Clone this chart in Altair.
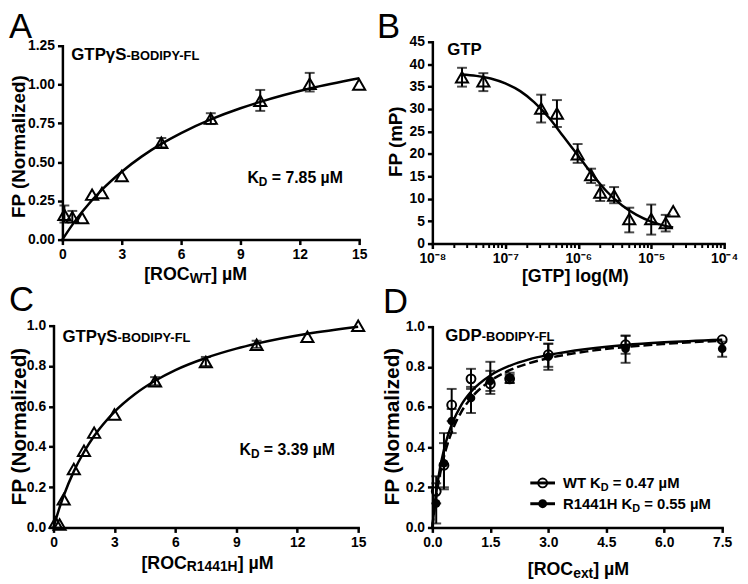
import altair as alt
import pandas as pd

FONT = "Liberation Sans"
OFF = 8
W, H = 740, 576

# ---------------- data ----------------
# Panel A  (ROC WT, GTPgS-BODIPY-FL)
a_x = [0.1, 0.5, 1, 1.5, 2, 3, 5, 7.5, 10, 12.5, 15]
a_y = [0.16, 0.145, 0.14, 0.29, 0.30, 0.41, 0.625, 0.78, 0.895, 1.005, 1.0]
a_lo = [0.11, 0.11, 0.14, 0.29, 0.30, 0.41, 0.595, 0.745, 0.83, 0.955, 1.0]
a_hi = [0.22, 0.185, 0.14, 0.29, 0.30, 0.41, 0.655, 0.815, 0.965, 1.075, 1.0]
a_fit_x = [0, 0.5, 1, 2, 3, 4, 5, 6, 7.5, 9, 10, 12.5, 15]
a_fit_y = [0, 0.095, 0.179, 0.322, 0.438, 0.535, 0.617, 0.687, 0.775, 0.847, 0.888, 0.974, 1.04]

# Panel B  (GTP competition)
b_x = [2.55e-8, 5.0e-8, 3.1e-7, 5.1e-7, 9.8e-7, 1.5e-6, 2.0e-6, 3.1e-6, 5.0e-6, 1.0e-5, 1.58e-5, 2.0e-5]
b_y = [37.1, 36.2, 30.1, 29.0, 19.9, 15.3, 11.4, 10.7, 5.5, 5.5, 4.6, 7.2]
b_lo = [35.0, 34.0, 27.0, 26.0, 18.0, 13.5, 9.5, 9.0, 2.5, 2.0, 2.7, 7.2]
b_hi = [39.2, 38.0, 33.2, 32.0, 22.2, 16.7, 13.0, 12.6, 8.0, 8.7, 6.4, 7.2]
b_fit_x = [2.5e-8, 4e-8, 6.3e-8, 1e-7, 1.6e-7, 2.5e-7, 4e-7, 6.3e-7, 1e-6, 1.6e-6,
           2.5e-6, 4e-6, 6.3e-6, 1e-5, 1.6e-5, 2e-5]
b_fit_y = [37.7, 37.4, 36.8, 35.7, 34.0, 31.5, 28.0, 23.8, 19.6, 15.2,
           11.5, 8.5, 6.4, 4.9, 3.9, 3.6]
b_major = [1e-8, 1e-7, 1e-6, 1e-5, 1e-4]
b_labels = ["10\u207b\u2078", "10\u207b\u2077", "10\u207b\u2076", "10\u207b\u2075", "10\u207b\u2074"]
b_minor = [m * d for d in b_major[:-1] for m in range(2, 10)]

# Panel C  (ROC R1441H, GTPgS-BODIPY-FL)
c_x = [0.1, 0.3, 0.5, 1, 1.5, 2, 3, 5, 7.5, 10, 12.5, 15]
c_y = [0.025, 0.015, 0.14, 0.29, 0.38, 0.47, 0.56, 0.725, 0.82, 0.905, 0.945, 1.0]
c_lo = [0.025, 0.015, 0.14, 0.29, 0.38, 0.47, 0.56, 0.705, 0.80, 0.89, 0.945, 1.0]
c_hi = [0.025, 0.015, 0.14, 0.29, 0.38, 0.47, 0.56, 0.745, 0.845, 0.925, 0.945, 1.0]
c_fit_x = [0, 0.25, 0.5, 1, 1.5, 2, 3, 4, 5, 6, 7.5, 9, 10, 12.5, 15]
c_fit_y = [0, 0.084, 0.157, 0.278, 0.374, 0.453, 0.573, 0.660, 0.727, 0.780, 0.840, 0.886, 0.911, 0.960, 0.995]

# Panel D  (ROC ext, GDP-BODIPY-FL)
d_x = [0.1, 0.3, 0.5, 1, 1.5, 2, 3, 5, 7.5]
d_wt_y = [0.18, 0.31, 0.61, 0.74, 0.715, 0.74, 0.86, 0.91, 0.935]
d_wt_lo = [0.12, 0.20, 0.53, 0.69, 0.665, 0.72, 0.80, 0.865, 0.935]
d_wt_hi = [0.255, 0.42, 0.69, 0.79, 0.825, 0.76, 0.915, 0.955, 0.935]
d_mu_y = [0.12, 0.32, 0.53, 0.645, 0.73, 0.745, 0.85, 0.89, 0.89]
d_mu_lo = [0.02, 0.19, 0.47, 0.57, 0.68, 0.72, 0.785, 0.82, 0.85]
d_mu_hi = [0.22, 0.47, 0.59, 0.70, 0.78, 0.77, 0.915, 0.955, 0.925]
d_fit_x = [0, 0.05, 0.1, 0.2, 0.3, 0.4, 0.5, 0.75, 1, 1.5, 2, 2.5, 3, 4, 5, 6, 7.5]
d_wt_fit = [0, 0.096, 0.174, 0.297, 0.387, 0.457, 0.512, 0.611, 0.676, 0.757, 0.805,
            0.837, 0.859, 0.889, 0.909, 0.922, 0.935]
d_mu_fit = [0, 0.083, 0.154, 0.266, 0.352, 0.420, 0.475, 0.576, 0.644, 0.730, 0.783,
            0.818, 0.843, 0.877, 0.899, 0.914, 0.930]

# ---------------- helpers ----------------
WIDTHS = {" ": 278, "[": 333, "]": 333, "(": 333, ")": 333, "-": 333, ".": 278, "=": 584,
          "A": 722, "B": 722, "C": 722, "D": 722, "E": 667, "F": 611, "G": 778, "H": 722,
          "I": 278, "K": 722, "L": 611, "M": 833, "N": 722, "O": 778, "P": 667, "R": 722,
          "S": 667, "T": 611, "W": 944, "Y": 667, "e": 556, "x": 556, "t": 333, "l": 278,
          "o": 611, "g": 611, "\u00b5": 611, "\u03b3": 556}


def tw(s, size):
    return sum(WIDTHS.get(c, 556) for c in s) * size / 1000.0


dummy = pd.DataFrame({"k": [0]})


def text(s, x, y, size, weight="bold", align="left", angle=None, baseline="alphabetic"):
    props = dict(text=s, font=FONT, fontSize=size, fontWeight=weight, align=align,
                 baseline=baseline, color="black")
    if angle is not None:
        props["angle"] = angle
    return alt.Chart(dummy).mark_text(**props).encode(x=alt.value(x - OFF), y=alt.value(y - OFF))


def rich(parts, x, y, align="left"):
    total = sum(tw(s, sz) for s, sz, _ in parts)
    if align == "center":
        x = x - total / 2.0
    out = []
    for s, sz, dy in parts:
        lead = len(s) - len(s.lstrip(" "))
        x += lead * tw(" ", sz)
        core = s.strip(" ")
        out.append(text(core, x, y + dy, sz))
        x += tw(core, sz)
        trail = len(s) - len(s.rstrip(" "))
        x += trail * tw(" ", sz)
    return out


def axis(orient, offset, values, fmt=None, label_expr=None):
    kw = dict(orient=orient, offset=offset, values=values, title="", grid=False,
              labelFont=FONT, labelFontSize=14, labelFontWeight="bold", labelColor="black",
              domainColor="black", domainWidth=2.5, domainCap="square",
              tickColor="black", tickWidth=2.5, tickSize=5,
              labelPadding=3, labelFlush=False, labelOverlap=False)
    if fmt:
        kw["format"] = fmt
    if label_expr:
        kw["labelExpr"] = label_expr
    return alt.Axis(**kw)


def panel(pt_sets, fit_sets, xs, ys, xax, yax, extra=()):
    layers = []

    def X(f):
        return alt.X(f, type="quantitative", scale=xs, axis=xax)

    def Y(f):
        return alt.Y(f, type="quantitative", scale=ys, axis=yax)

    for fx, fy, dash in fit_sets:
        props = dict(color="black", strokeWidth=2.5, interpolate="monotone")
        if dash:
            props["strokeDash"] = dash
        df = pd.DataFrame({"x": fx, "y": fy})
        layers.append(alt.Chart(df).mark_line(**props).encode(x=X("x"), y=Y("y")))
    for px, py, plo, phi, shape, filled, size in pt_sets:
        df = pd.DataFrame({"x": px, "y": py, "lo": plo, "hi": phi})
        base = alt.Chart(df).transform_filter("datum.hi > datum.lo")
        layers.append(base.mark_rule(color="black", strokeWidth=2).encode(
            x=X("x"), y=Y("lo"), y2=alt.Y2("hi")))
        layers.append(base.mark_tick(orient="horizontal", size=10, thickness=2, color="black").encode(
            x=X("x"), y=Y("lo")))
        layers.append(base.mark_tick(orient="horizontal", size=10, thickness=2, color="black").encode(
            x=X("x"), y=Y("hi")))
        layers.append(alt.Chart(df).mark_point(shape=shape, filled=filled, size=size, strokeWidth=2,
                                               color="black", opacity=1).encode(x=X("x"), y=Y("y")))
    for e in extra:
        layers.append(e(X, Y))
    return alt.layer(*layers)


# ---------------- panels ----------------
# Panel A
xsA = alt.Scale(domain=[0, 15], range=[55, 355], nice=False, zero=False)
ysA = alt.Scale(domain=[0, 1.25], range=[231, 35], nice=False, zero=False)
pA = panel([(a_x, a_y, a_lo, a_hi, "triangle-up", False, 150)],
           [(a_fit_x, a_fit_y, None)], xsA, ysA,
           axis("bottom", 231 - H, [0, 3, 6, 9, 12, 15]),
           axis("left", -55, [0, 0.25, 0.5, 0.75, 1.0, 1.25], ".2f"))

# Panel B
b_expr = " : ".join(
    f"datum.value < {v * 3:.0e} ? '{lab}'" for v, lab in zip(b_major[:-1], b_labels[:-1])
) + f" : '{b_labels[-1]}'"
xsB = alt.Scale(type="log", domain=[1e-8, 1e-4], range=[429, 724], nice=False)
ysB = alt.Scale(domain=[0, 45], range=[235, 31], nice=False, zero=False)
minor_df = pd.DataFrame({"m": b_minor})


def minor_ticks(X, Y):
    return alt.Chart(minor_df).mark_rule(color="black", strokeWidth=2).encode(
        x=X("m"), y=alt.value(235), y2=alt.value(239.5))


pB = panel([(b_x, b_y, b_lo, b_hi, "triangle-up", False, 150)],
           [(b_fit_x, b_fit_y, None)], xsB, ysB,
           axis("bottom", 235 - H, b_major, label_expr=b_expr),
           axis("left", -429, list(range(0, 50, 5))),
           extra=[minor_ticks])

# Panel C
xsC = alt.Scale(domain=[0, 15], range=[46, 354], nice=False, zero=False)
ysC = alt.Scale(domain=[0, 1], range=[522, 318], nice=False, zero=False)
pC = panel([(c_x, c_y, c_lo, c_hi, "triangle-up", False, 150)],
           [(c_fit_x, c_fit_y, None)], xsC, ysC,
           axis("bottom", 522 - H, [0, 3, 6, 9, 12, 15]),
           axis("left", -46, [0, 0.2, 0.4, 0.6, 0.8, 1.0], ".1f"))

# Panel D
xsD = alt.Scale(domain=[0, 7.5], range=[429, 722], nice=False, zero=False)
ysD = alt.Scale(domain=[0, 1], range=[522, 319], nice=False, zero=False)
pD = panel([(d_x, d_mu_y, d_mu_lo, d_mu_hi, "circle", True, 75),
            (d_x, d_wt_y, d_wt_lo, d_wt_hi, "circle", False, 80)],
           [(d_fit_x, d_mu_fit, [9, 4]), (d_fit_x, d_wt_fit, None)], xsD, ysD,
           axis("bottom", 522 - H, [0, 1.5, 3.0, 4.5, 6.0, 7.5], ".1f"),
           axis("left", -429, [0, 0.2, 0.4, 0.6, 0.8, 1.0], ".1f"))

# ---------------- text ----------------
texts = []
# panel letters
texts += [text("A", 9, 35, 35, weight="normal"), text("B", 381, 35, 35, weight="normal"),
          text("C", 9, 311, 35, weight="normal"), text("D", 387, 313, 35, weight="normal")]
# y titles
texts += [text("FP (Normalized)", 25, 145, 19, align="center", angle=270),
          text("FP (mP)", 406, 140, 19, align="center", angle=270),
          text("FP (Normalized)", 26, 428, 21, align="center", angle=270),
          text("FP (Normalized)", 403, 428, 21, align="center", angle=270)]
# x titles
texts += rich([("[ROC", 18, 0), ("WT", 14, 3), ("] \u00b5M", 18, 0)], 198, 280, "center")
texts += [text("[GTP] log(M)", 581.5, 282, 18, align="center")]
texts += rich([("[ROC", 18, 0), ("R1441H", 14, 3), ("] \u00b5M", 18, 0)], 210, 571.5, "center")
texts += rich([("[ROC", 18, 0), ("ext", 14, 3), ("] \u00b5M", 18, 0)], 585, 578, "center")
# in-plot labels
texts += rich([("GTP\u03b3S", 17, 0), ("-BODIPY-FL", 13, 0)], 72, 57)
texts += [text("GTP", 452, 52, 17)]
texts += rich([("GTP\u03b3S", 17, 0), ("-BODIPY-FL", 13, 0)], 63, 342)
texts += rich([("GDP", 17, 0), ("-BODIPY-FL", 13, 0)], 450, 341)
texts += rich([("K", 16, 0), ("D", 12, 3), (" = 7.85 \u00b5M", 16, 0)], 250, 182)
texts += rich([("K", 16, 0), ("D", 12, 3), (" = 3.39 \u00b5M", 16, 0)], 242, 457)

# legend of panel D
leg = []
for row_y, filled, label, kd in [(485, False, "WT K", " = 0.47 \u00b5M"),
                                  (506, True, "R1441H K", " = 0.55 \u00b5M")]:
    leg.append(alt.Chart(dummy).mark_rule(color="black", strokeWidth=3).encode(
        x=alt.value(536 - OFF), x2=alt.value(561 - OFF), y=alt.value(row_y - OFF)))
    leg.append(alt.Chart(dummy).mark_point(shape="circle", filled=filled, size=80, strokeWidth=2,
                                           color="black", opacity=1).encode(
        x=alt.value(548.5 - OFF), y=alt.value(row_y - OFF)))
    leg += rich([(label, 15, 0), ("D", 11, 3), (kd, 15, 0)], 569, row_y + 5)

chart = alt.layer(pA, pB, pC, pD, *texts, *leg).resolve_scale(
    x="independent", y="independent"
).properties(
    width=W, height=H, padding=0, background="white",
    autosize=alt.AutoSizeParams(type="none"),
).configure_view(strokeWidth=0)

chart.save("out.html", embed_options={"renderer": "svg", "actions": False})
